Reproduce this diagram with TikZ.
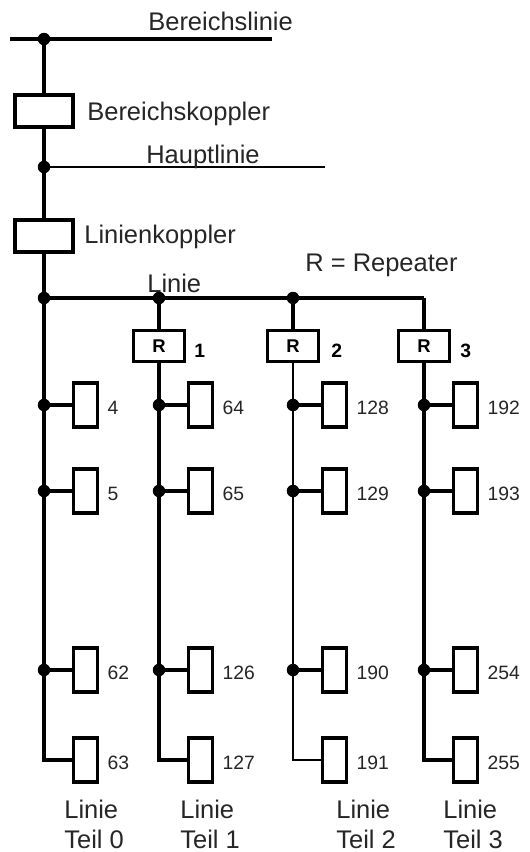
\documentclass[tikz,border=0pt]{standalone}
\usepackage{fontspec}
\setmainfont{Liberation Sans}
\usetikzlibrary{positioning}

\tikzset{
    bus/.style={line width=2.1pt},
    thinbus/.style={line width=1pt},
    box/.style={draw, line width=2pt, inner sep=0pt},
    koppler/.style={box, minimum width=1.16cm, minimum height=0.64cm},
    dev/.style={box, minimum width=0.48cm, minimum height=0.88cm},
    rep/.style={box, minimum width=1.02cm, minimum height=0.62cm, font=\fontsize{10.5}{12}\selectfont\bfseries},
    lbl/.style={font=\fontsize{14.5}{17}\selectfont, text=black!85, inner sep=0pt},
    num/.style={font=\fontsize{11}{13}\selectfont, text=black!85, inner sep=0pt},
    rnum/.style={font=\fontsize{11}{13}\selectfont\bfseries, inner sep=0pt, anchor=base west},
}

\begin{document}
\begin{tikzpicture}[x=0.02cm, y=-0.02cm]
    \useasboundingbox (0,0) rectangle (530,852);

    % Bereichslinie
    \coordinate (bl0) at (10,39);
    \coordinate (bl1) at (272,39);
    \coordinate (b) at (44,39);
    \draw[bus] (bl0) -- (bl1);
    \node[lbl, anchor=base west] (tbl) at (148,31) {Bereichslinie};

    % Bereichskoppler
    \node[koppler] (bk) at (44,111) {};
    \node[lbl, anchor=base west] (tbk) at (87,120) {Bereichskoppler};

    % Hauptlinie
    \coordinate (h) at (44,167);
    \coordinate (h1) at (325,167);
    \draw[thinbus] (h) -- (h1);
    \node[lbl, anchor=base west] (th) at (146,163) {Hauptlinie};

    % Linienkoppler
    \node[koppler] (lk) at (44,236) {};
    \node[lbl, anchor=base west] (tlk) at (84,243) {Linienkoppler};

    % Linie with repeaters
    \coordinate (l0) at (44,298);
    \coordinate (l1) at (159,298);
    \coordinate (l2) at (293,298);
    \coordinate (l3) at (424,298);
    \node[lbl, anchor=base west] (tl) at (147,292) {Linie};
    \node[lbl, anchor=base west] (trep) at (305,271) {R = Repeater};

    \draw[bus] (b) -- (bk) (bk) -- (h) -- (lk) (lk) -- (l0);
    \draw[bus] (l0) -- (l3);

    \foreach \c/\cx/\nx in {1/159/194, 2/293/331, 3/424/460} {
        \node[rep] (r\c) at (\cx,346) {R};
        \node[rnum] (rn\c) at (\nx,357) {\c};
        \draw[bus] (l\c) -- (r\c);
    }

    % Teilnehmer
    \foreach \c/\cx/\top/\w/\na/\nb/\nc/\nd in {0/44/l0/bus/4/5/62/63, 1/159/r1/bus/64/65/126/127,
            2/293/r2/thinbus/128/129/190/191, 3/424/r3/bus/192/193/254/255} {
        \foreach \r/\ry/\n in {1/405/\na, 2/491/\nb, 3/670/\nc, 4/760/\nd} {
            \node[dev] (d\c\r) at (\cx+41.5,\ry) {};
            \node[num, right=1.6mm of d\c\r, yshift=-0.05cm] (n\c\r) {\n};
        }
        \draw[\w] (\top) -- (\cx,760) -- (d\c4);
        \foreach \r/\ry in {1/405, 2/491, 3/670} {
            \draw[bus] (\cx,\ry) -- (d\c\r);
            \fill (\cx,\ry) circle (1.25mm);
        }
    }

    % Dots
    \foreach \p in {b, h, l0, l1, l2}
        \fill (\p) circle (1.25mm);

    % Linie Teil labels
    \foreach \c/\lx in {0/64, 1/180, 2/336, 3/443} {
        \node[lbl, anchor=base west] (ln\c) at (\lx,818) {Linie};
        \node[lbl, anchor=base west] (lt\c) at (\lx,848) {Teil \c};
    }
\end{tikzpicture}
\end{document}
